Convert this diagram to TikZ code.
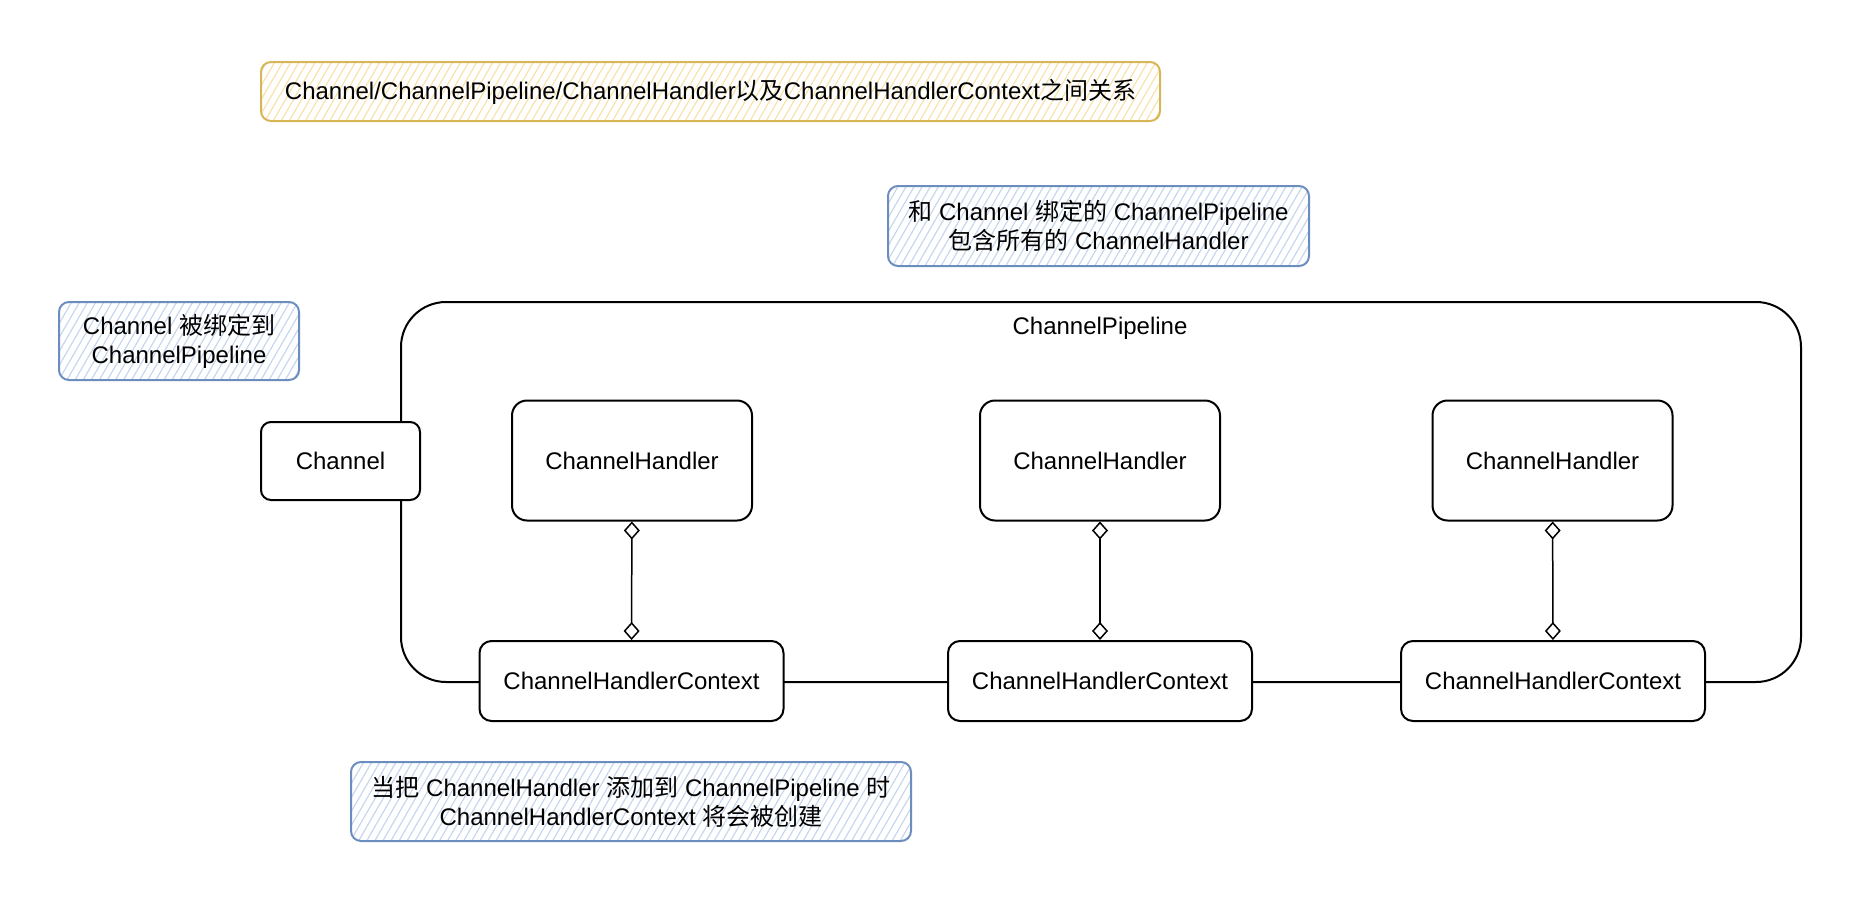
\documentclass[tikz,border=0pt]{standalone}
\usepackage{fontspec}
\setmainfont{Liberation Sans}
\newfontfamily\cjk{Noto Sans CJK SC}
\usetikzlibrary{arrows.meta,patterns.meta}
\definecolor{noteblue}{HTML}{6C8EBF}
\definecolor{hatchblue}{RGB}{198,214,238}
\definecolor{titleyellow}{HTML}{D6B656}
\definecolor{hatchyellow}{RGB}{248,226,170}

\begin{document}
\begin{tikzpicture}[x=1pt,y=-1pt,font=\fontsize{24}{29}\selectfont]
        \tikzstyle{box}=[draw=black,line width=2pt,rounded corners=12pt,fill=white,inner sep=0pt]
        \tikzstyle{note}=[draw=noteblue,line width=2pt,rounded corners=10pt,align=center,inner sep=0pt,pattern={Lines[angle=60,distance=7pt,line width=1.2pt]},pattern color=hatchblue]
        \tikzstyle{titlenote}=[note,draw=titleyellow,pattern color=hatchyellow]
        \tikzstyle{agg}=[draw,line width=1.5pt,{Diamond[open,length=18pt,width=16pt]}-{Diamond[open,length=18pt,width=16pt]}]
        \useasboundingbox (0,0) rectangle (1862,902);
       \begin{scope}
         % notes
         \node [titlenote,minimum width=899pt,minimum height=59pt] (title) at (710.5,91.5) {Channel/ChannelPipeline/ChannelHandler{\cjk 以及}ChannelHandlerContext{\cjk 之间关系}};
         \node [note,minimum width=421pt,minimum height=80pt] (note1) at (1098.5,226) {{\cjk 和} Channel {\cjk 绑定的} ChannelPipeline\\{\cjk 包含所有的} ChannelHandler};
         \node [note,minimum width=240pt,minimum height=78pt] (note2) at (179,341) {Channel {\cjk 被绑定到}\\ChannelPipeline};
         \node [note,minimum width=560pt,minimum height=79pt] (note3) at (631,801.5) {{\cjk 当把} ChannelHandler {\cjk 添加到} ChannelPipeline {\cjk 时}\\ChannelHandlerContext {\cjk 将会被创建}};
         % pipeline
         \node [draw,line width=2pt,rounded corners=45pt,minimum width=1400pt,minimum height=380pt,inner sep=0pt] (pipe) at (1101,492) {};
         \node (pipelabel) at (1100,328) {ChannelPipeline};
         \node [box,rounded corners=10pt,minimum width=159pt,minimum height=78pt] (chan) at (340.5,461) {Channel};
         % handlers
         \node [box,rounded corners=15pt,minimum width=240pt,minimum height=120pt] (h1) at (632,460.5) {ChannelHandler};
         \node [box,rounded corners=15pt,minimum width=240pt,minimum height=120pt] (h2) at (1100,460.5) {ChannelHandler};
         \node [box,rounded corners=15pt,minimum width=240pt,minimum height=120pt] (h3) at (1552.5,460.5) {ChannelHandler};
         % contexts
         \node [box,minimum width=304pt,minimum height=80pt] (c1) at (631.5,681) {ChannelHandlerContext};
         \node [box,minimum width=304pt,minimum height=80pt] (c2) at (1100,681) {ChannelHandlerContext};
         \node [box,minimum width=304pt,minimum height=80pt] (c3) at (1553,681) {ChannelHandlerContext};
         \path[agg] (h1) edge (c1);
         \path[agg] (h2) edge (c2);
         \path[agg] (h3) edge (c3);
        \end{scope}
      \end{tikzpicture}
\end{document}
